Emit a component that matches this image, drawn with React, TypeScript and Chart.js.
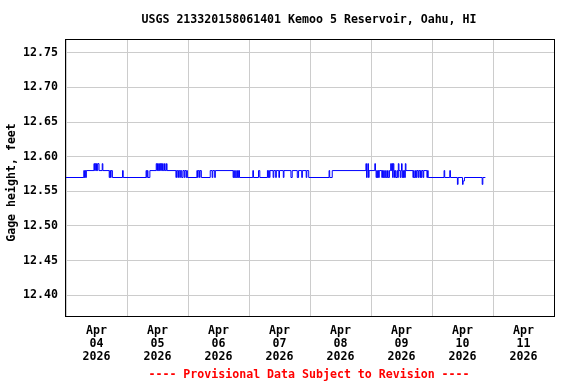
import { useEffect, useRef } from 'react';
import { Chart, registerables } from 'chart.js';

Chart.register(...registerables);

const chartTitle = 'USGS 213320158061401 Kemoo 5 Reservoir, Oahu, HI';
const yAxisLabel = 'Gage height, feet';
const footnote = '---- Provisional Data Subject to Revision ----';
const monthLabel = 'Apr';
const yearLabel = '2026';
const dayLabels = ['04', '05', '06', '07', '08', '09', '10', '11'];
const yTickValues = [12.4, 12.45, 12.5, 12.55, 12.6, 12.65, 12.7, 12.75];
const yMin = 12.37;
const yMax = 12.77;

// hours since Apr 04 00:00; each value holds until the next reading
const readingHours = [
  0, 7, 7.25, 7.5, 7.75, 8, 11, 11.25, 11.5, 11.75, 12, 12.25, 12.5, 13, 14.25, 14.5, 17, 17.25, 17.5, 17.75, 18.25, 22.25, 22.5,
  31.5, 31.75, 32, 32.25, 33, 35.5, 35.75, 36, 36.25, 36.5, 36.75, 37, 37.25, 37.5, 37.75, 38, 38.25, 38.75, 39, 39.5, 39.75,
  43.25, 43.5, 44, 44.25, 44.75, 45, 45.5, 46, 46.5, 46.75, 47.25, 47.5, 47.75,
  51.5, 51.75, 52, 52.5, 52.75, 53.25, 56.75, 57.5, 57.75, 58.5, 58.75, 65.75, 66, 66.25, 66.75, 67,
  67.5, 67.75, 68, 68.25,
  73.5, 73.75, 75.75, 76.25, 79.25, 79.5, 79.75, 80, 80.25, 81.5, 81.75, 82.5, 82.75, 83.75, 84, 85.5,
  85.75, 88.5, 89, 91, 91.5, 92.75, 93, 94.5, 94.75, 95.5,
  103.5, 103.75, 104.75, 118, 118.25, 118.5, 118.75, 119, 119.25,
  121.5, 121.75, 122, 122.25, 122.5, 122.75, 123, 123.25, 124.25, 124.5, 124.75, 125, 125.25, 125.75,
  126, 126.5, 126.75, 127.25, 127.75, 128, 128.25, 128.5, 128.75, 129, 129.25, 129.5, 129.75, 130.25,
  130.5, 130.75, 131, 131.5, 131.75, 132, 132.25, 132.5, 132.75, 133, 133.25, 133.5, 133.75, 136.5,
  136.75, 137, 137.5, 137.75, 138, 138.5, 138.75, 139.25, 139.5, 139.75, 140, 140.5, 140.75, 142,
  142.25, 142.5,
  148.75, 149, 151, 151.25, 154, 154.25, 156, 156.25, 156.75, 163.75, 164, 165,
];

const gageHeights = [
  12.57, 12.58, 12.57, 12.58, 12.57, 12.58, 12.59, 12.58, 12.59, 12.58, 12.59, 12.58, 12.59, 12.58, 12.59, 12.58, 12.57, 12.58, 12.57, 12.58, 12.57, 12.58, 12.57,
  12.58, 12.57, 12.58, 12.57, 12.58, 12.59, 12.58, 12.59, 12.58, 12.59, 12.58, 12.59, 12.58, 12.59, 12.58, 12.59, 12.58, 12.59, 12.58, 12.59, 12.58,
  12.57, 12.58, 12.57, 12.58, 12.57, 12.58, 12.57, 12.58, 12.57, 12.58, 12.57, 12.58, 12.57,
  12.58, 12.57, 12.58, 12.57, 12.58, 12.57, 12.58, 12.57, 12.58, 12.57, 12.58, 12.57, 12.58, 12.57, 12.58, 12.57,
  12.58, 12.57, 12.58, 12.57,
  12.58, 12.57, 12.58, 12.57, 12.58, 12.57, 12.58, 12.57, 12.58, 12.57, 12.58, 12.57, 12.58, 12.57, 12.58, 12.57,
  12.58, 12.57, 12.58, 12.57, 12.58, 12.57, 12.58, 12.57, 12.58, 12.57,
  12.58, 12.57, 12.58, 12.59, 12.57, 12.58, 12.59, 12.57, 12.58,
  12.59, 12.58, 12.57, 12.58, 12.57, 12.58, 12.57, 12.58, 12.57, 12.58, 12.57, 12.58, 12.57, 12.58,
  12.57, 12.58, 12.57, 12.58, 12.59, 12.58, 12.59, 12.57, 12.59, 12.58, 12.57, 12.58, 12.57, 12.58,
  12.57, 12.59, 12.58, 12.57, 12.58, 12.59, 12.57, 12.58, 12.57, 12.58, 12.57, 12.59, 12.58, 12.57,
  12.58, 12.57, 12.58, 12.57, 12.58, 12.57, 12.58, 12.57, 12.58, 12.57, 12.58, 12.57, 12.58, 12.57,
  12.58, 12.57,
  12.58, 12.57, 12.58, 12.57, 12.56, 12.57, 12.56, 12.565, 12.57, 12.56, 12.57, 12.57,
];

const FONT_FAMILY = '"DejaVu Sans Mono", "Liberation Mono", monospace';
const FONT_SIZE = 11.6;

const framePlugin = {
  id: 'usgsFrame',
  afterDraw(chart: any) {
    const { ctx, chartArea } = chart;
    const { left, top, right, bottom } = chartArea;
    ctx.save();
    ctx.strokeStyle = '#000000';
    ctx.lineWidth = 1;
    ctx.strokeRect(Math.round(left) - 0.5, Math.round(top) + 0.5, Math.round(right - left) + 1, Math.round(bottom - top));
    ctx.font = `bold ${FONT_SIZE}px ${FONT_FAMILY}`;
    ctx.fillStyle = '#000000';
    ctx.textAlign = 'center';
    ctx.textBaseline = 'middle';
    ctx.fillText(chartTitle, 309, 20);
    ctx.fillStyle = '#ff0000';
    ctx.fillText(footnote, 309, 375);
    ctx.fillStyle = '#000000';
    ctx.translate(12, 182.5);
    ctx.rotate(-Math.PI / 2);
    ctx.fillText(yAxisLabel, 0, 0);
    ctx.restore();
  },
};

export default function App() {
  const canvasRef = useRef<HTMLCanvasElement | null>(null);

  useEffect(() => {
    const canvas = canvasRef.current;
    if (!canvas) return;
    const points = readingHours.map((h, i) => ({ x: h, y: gageHeights[i] }));
    const xTickValues: number[] = [];
    for (let i = 0; i <= dayLabels.length * 2; i++) xTickValues.push(i * 12);
    const font = { family: FONT_FAMILY, size: FONT_SIZE, weight: 'bold' as const, lineHeight: 1.09 };

    const chart = new Chart(canvas, {
      type: 'line',
      data: {
        datasets: [
          {
            data: points,
            borderColor: '#0000ff',
            borderWidth: 1,
            pointRadius: 0,
            stepped: 'before',
            fill: false,
            tension: 0,
          },
        ],
      },
      options: {
        animation: false,
        responsive: false,
        devicePixelRatio: 1,
        layout: { padding: { left: 0, top: 39, right: 22, bottom: 0 } },
        plugins: {
          legend: { display: false },
          title: { display: false },
          tooltip: { enabled: false },
        },
        scales: {
          x: {
            type: 'linear',
            min: 0,
            max: dayLabels.length * 24,
            afterBuildTicks: (scale: any) => {
              scale.ticks = xTickValues.map((v) => ({ value: v }));
            },
            afterFit: (scale: any) => {
              scale.height = 68;
            },
            grid: {
              color: (ctx: any) =>
                ctx.tick && ctx.tick.value % 24 === 0 ? '#cccccc' : 'rgba(0,0,0,0)',
              drawTicks: false,
              lineWidth: 1,
            },
            border: { display: false },
            ticks: {
              autoSkip: false,
              maxRotation: 0,
              minRotation: 0,
              padding: 9,
              color: '#000000',
              font,
              callback: (value: any) => {
                const n = Number(value);
                if (n % 24 === 12) {
                  const d = dayLabels[(n - 12) / 24];
                  return [monthLabel, d, yearLabel];
                }
                return '';
              },
            },
          },
          y: {
            type: 'linear',
            min: yMin,
            max: yMax,
            afterBuildTicks: (scale: any) => {
              scale.ticks = yTickValues.map((v) => ({ value: v }));
            },
            afterFit: (scale: any) => {
              scale.width = 66;
            },
            grid: { color: '#cccccc', drawTicks: false, lineWidth: 1 },
            border: { display: false },
            ticks: {
              padding: 8,
              color: '#000000',
              font,
              callback: (value: any) => Number(value).toFixed(2),
            },
          },
        },
      },
      plugins: [framePlugin],
    });

    return () => chart.destroy();
  }, []);

  return (
    <div style={{ position: 'absolute', left: 0, top: 0, width: 576, height: 384, background: '#ffffff' }}>
      <canvas ref={canvasRef} width={576} height={384} style={{ display: 'block', width: 576, height: 384 }} />
    </div>
  );
}
